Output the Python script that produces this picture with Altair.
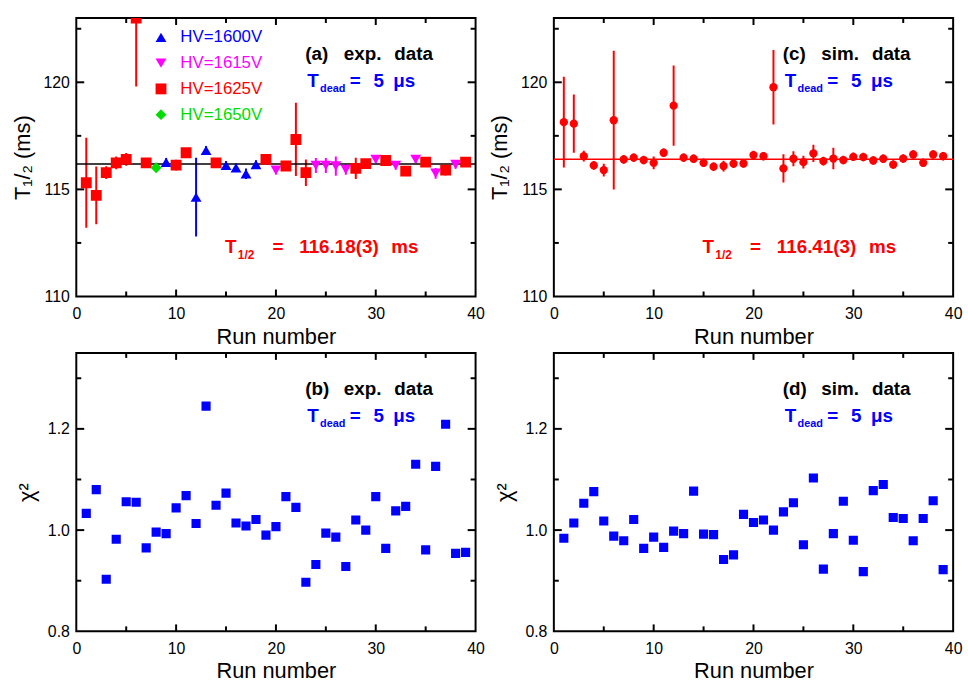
import altair as alt
import pandas as pd

runs = list(range(1, 40))

# ---------------- panel (a): experimental half-lives ----------------
R, B, M, G = "HV=1625V", "HV=1600V", "HV=1615V", "HV=1650V"
a_hv = [R, R, R, R, R, R, R, G, B, R, R, B, B, R, B, B, B, B, R, M,
        R, R, R, M, M, M, M, R, R, M, R, M, R, M, R, M, R, M, R]
a_t = [115.31, 114.72, 115.78, 116.24, 116.40, 123.0, 116.24, 116.01, 116.27, 116.13,
       116.71, 114.64, 116.82, 116.24, 116.12, 116.01, 115.73, 116.16, 116.40, 115.89,
       116.09, 117.33, 115.78, 116.12, 116.12, 116.09, 115.93, 115.98, 116.20, 116.40,
       116.35, 116.12, 115.85, 116.40, 116.27, 115.75, 115.90, 116.16, 116.27]
a_err = [2.1, 1.35, 0.3, 0.3, 0.3, 3.2, 0.2, 0.2, 0.2, 0.25,
         0.2, 1.84, 0.2, 0.2, 0.2, 0.2, 0.25, 0.2, 0.2, 0.2,
         0.2, 1.71, 0.62, 0.35, 0.35, 0.45, 0.25, 0.5, 0.2, 0.2,
         0.2, 0.2, 0.2, 0.2, 0.2, 0.25, 0.25, 0.2, 0.2]
a_fit = 116.18

# ---------------- panel (c): simulated half-lives ----------------
c_t = [118.14, 118.07, 116.55, 116.12, 115.90, 118.23, 116.40, 116.48, 116.37, 116.24,
       116.71, 118.91, 116.48, 116.43, 116.24, 116.06, 116.09, 116.20, 116.21, 116.60,
       116.55, 119.77, 115.98, 116.43, 116.27, 116.68, 116.32, 116.44, 116.37, 116.52,
       116.51, 116.35, 116.43, 116.16, 116.44, 116.63, 116.24, 116.63, 116.55]
c_err = [2.12, 1.36, 0.25, 0.2, 0.3, 3.24, 0.2, 0.2, 0.2, 0.3,
         0.2, 1.87, 0.2, 0.2, 0.2, 0.2, 0.25, 0.2, 0.2, 0.2,
         0.2, 1.74, 0.66, 0.35, 0.3, 0.4, 0.2, 0.5, 0.2, 0.2,
         0.2, 0.2, 0.2, 0.2, 0.2, 0.2, 0.2, 0.2, 0.2]
c_fit = 116.41

# ---------------- panels (b), (d): chi^2 ----------------
b_chi = [1.033, 1.080, 0.903, 0.982, 1.056, 1.055, 0.965, 0.996, 0.993, 1.044,
         1.068, 1.013, 1.245, 1.049, 1.073, 1.014, 1.008, 1.021, 0.990, 1.007,
         1.066, 1.045, 0.897, 0.932, 0.994, 0.986, 0.928, 1.020, 1.000, 1.066,
         0.964, 1.038, 1.047, 1.130, 0.961, 1.126, 1.209, 0.954, 0.956]
d_chi = [0.984, 1.014, 1.053, 1.076, 1.018, 0.988, 0.979, 1.021, 0.964, 0.986,
         0.966, 0.998, 0.993, 1.077, 0.992, 0.991, 0.942, 0.951, 1.031, 1.015,
         1.020, 1.000, 1.036, 1.054, 0.971, 1.103, 0.923, 0.993, 1.057, 0.980,
         0.918, 1.078, 1.090, 1.025, 1.023, 0.979, 1.023, 1.058, 0.922]

hv_domain = [B, M, R, G]
hv_colors = ["#0000ff", "#ff00ff", "#ff0000", "#00dd00"]
hv_shapes = ["triangle-up", "triangle-down", "square", "diamond"]
hv_sizes = [120, 120, 85, 130]

x_labels = [0, 10, 20, 30, 40]
x_major = [10, 20, 30]
x_minor = [5, 15, 25, 35]
t_labels = [110, 115, 120]
t_major = [115, 120]
t_minor = [112.5, 117.5, 122.5]
chi_labels = [0.8, 1.0, 1.2]
chi_major = [1.0, 1.2]
chi_minor = [0.9, 1.1, 1.3]

W, H = 403, 281
T_DOM = [110, 123]
CHI_DOM = [0.8, 1.35]
FONT = "Liberation Sans"

xs = alt.Scale(domain=[0, 40], nice=False, zero=False)


def x_enc(field="run"):
    return alt.X(f"{field}:Q", scale=xs,
                 axis=alt.Axis(values=x_labels, title="Run  number", labelPadding=9,
                               titlePadding=5, format="d"))


def y_axis(vals, title, fmt):
    return alt.Axis(values=vals, title=title, labelPadding=7, titlePadding=9, format=fmt)


def ticks(ydom, ymaj, ymin):
    layers = []
    for vals, L in [(x_major, 7), (x_minor, 5)]:
        d = pd.DataFrame({"v": vals})
        base = alt.Chart(d).mark_rule(color="black", strokeWidth=2)
        layers.append(base.encode(x=alt.X("v:Q", scale=xs), y=alt.value(H), y2=alt.value(H - L)))
        layers.append(base.encode(x=alt.X("v:Q", scale=xs), y=alt.value(0), y2=alt.value(L)))
    ys = alt.Scale(domain=ydom, nice=False, zero=False)
    for vals, L in [(ymaj, 8), (ymin, 5)]:
        d = pd.DataFrame({"v": vals})
        base = alt.Chart(d).mark_rule(color="black", strokeWidth=2)
        layers.append(base.encode(y=alt.Y("v:Q", scale=ys), x=alt.value(0), x2=alt.value(L)))
        layers.append(base.encode(y=alt.Y("v:Q", scale=ys), x=alt.value(W), x2=alt.value(W - L)))
    return layers


def annotations(rows, ydom):
    d = pd.DataFrame(rows, columns=["x", "y", "text", "color", "size"])
    return alt.Chart(d).mark_text(align="left", baseline="alphabetic", font=FONT,
                                  fontWeight="bold").encode(
        x=alt.X("x:Q", scale=xs),
        y=alt.Y("y:Q", scale=alt.Scale(domain=ydom, nice=False, zero=False)),
        text="text:N",
        color=alt.Color("color:N", scale=None),
        size=alt.Size("size:Q", scale=None),
    )


def label_rows(tag, kind, top, ppu):
    y1 = top - 42 / ppu
    y2 = top - 70 / ppu
    y3 = top - 75 / ppu
    return [
        [231 / 10.075, y1, tag, "black", 19],
        [270 / 10.075, y1, kind, "black", 19],
        [321 / 10.075, y1, "data", "black", 19],
        [233 / 10.075, y2, "T", "#0000ff", 19],
        [246 / 10.075, y3, "dead", "#0000ff", 11],
        [276 / 10.075, y2, "=", "#0000ff", 19],
        [300 / 10.075, y2, "5", "#0000ff", 19],
        [320 / 10.075, y2, "μs", "#0000ff", 19],
    ]


def half_rows(val):
    top = T_DOM[1]
    ppu = H / (T_DOM[1] - T_DOM[0])
    ya = top - 237 / ppu
    yb = top - 243 / ppu
    return [
        [150 / 10.075, ya, "T", "#ff0000", 19],
        [163 / 10.075, yb, "1/2", "#ff0000", 12],
        [198 / 10.075, ya, "=", "#ff0000", 19],
        [225 / 10.075, ya, val, "#ff0000", 19],
        [318 / 10.075, ya, "ms", "#ff0000", 19],
    ]


T_TITLE = "T₁/₂  (ms)"
ppu_t = H / (T_DOM[1] - T_DOM[0])
ppu_c = H / (CHI_DOM[1] - CHI_DOM[0])

# ---------------- build panel (a) ----------------
col_map = dict(zip(hv_domain, hv_colors))
dfa = pd.DataFrame({"run": runs, "t": a_t, "err": a_err, "hv": a_hv})
dfa["lo"] = dfa["t"] - dfa["err"]
dfa["hi"] = dfa["t"] + dfa["err"]
dfa["col"] = dfa["hv"].map(col_map)
ys_t = alt.Scale(domain=T_DOM, nice=False, zero=False)

label_expr = ("datum.label == 'HV=1600V' ? '#0000ff' : datum.label == 'HV=1615V' ? '#ff00ff' : "
              "datum.label == 'HV=1625V' ? '#ff0000' : '#00dd00'")
leg = alt.Legend(title=None, orient="none", legendX=77, legendY=11, labelFont=FONT,
                 labelFontSize=17, labelColor={"expr": label_expr}, symbolStrokeWidth=0,
                 symbolOpacity=1, symbolSize=150, rowPadding=8, labelOffset=11, padding=0)

a_err_l = alt.Chart(dfa).mark_rule(strokeWidth=2, clip=True).encode(
    x=x_enc(), y=alt.Y("lo:Q", scale=ys_t, axis=y_axis(t_labels, T_TITLE, "d")), y2="hi:Q",
    color=alt.Color("col:N", scale=None))
a_fit_l = alt.Chart(pd.DataFrame({"v": [a_fit]})).mark_rule(color="black", strokeWidth=1.5).encode(
    y=alt.Y("v:Q", scale=ys_t))
a_pts = alt.Chart(dfa).mark_point(filled=True, opacity=1, strokeWidth=0, clip=True).encode(
    x=alt.X("run:Q", scale=xs),
    y=alt.Y("t:Q", scale=ys_t),
    color=alt.Color("hv:N", scale=alt.Scale(domain=hv_domain, range=hv_colors), legend=leg),
    shape=alt.Shape("hv:N", scale=alt.Scale(domain=hv_domain, range=hv_shapes), legend=leg),
    size=alt.Size("hv:N", scale=alt.Scale(domain=hv_domain, range=hv_sizes), legend=None),
)
panel_a = alt.layer(a_err_l, a_fit_l, a_pts,
                    annotations(label_rows("(a)", "exp.", T_DOM[1], ppu_t) + half_rows("116.18(3)"), T_DOM),
                    *ticks(T_DOM, t_major, t_minor)).properties(width=W, height=H)

# ---------------- build panel (c) ----------------
dfc = pd.DataFrame({"run": runs, "t": c_t, "err": c_err})
dfc["lo"] = dfc["t"] - dfc["err"]
dfc["hi"] = dfc["t"] + dfc["err"]
c_err_l = alt.Chart(dfc).mark_rule(strokeWidth=2, color="#ff0000", clip=True).encode(
    x=x_enc(), y=alt.Y("lo:Q", scale=ys_t, axis=y_axis(t_labels, T_TITLE, "d")), y2="hi:Q")
c_fit_l = alt.Chart(pd.DataFrame({"v": [c_fit]})).mark_rule(color="#ff0000", strokeWidth=1.5).encode(
    y=alt.Y("v:Q", scale=ys_t))
c_pts = alt.Chart(dfc).mark_point(filled=True, opacity=1, strokeWidth=0, shape="circle",
                                  size=70, color="#ff0000", clip=True).encode(
    x=alt.X("run:Q", scale=xs), y=alt.Y("t:Q", scale=ys_t))
panel_c = alt.layer(c_err_l, c_fit_l, c_pts,
                    annotations(label_rows("(c)", "sim.", T_DOM[1], ppu_t) + half_rows("116.41(3)"), T_DOM),
                    *ticks(T_DOM, t_major, t_minor)).properties(width=W, height=H)

# ---------------- chi^2 panels ----------------
ys_c = alt.Scale(domain=CHI_DOM, nice=False, zero=False)


def chi_panel(vals, tag, kind):
    d = pd.DataFrame({"run": runs, "chi": vals})
    pts = alt.Chart(d).mark_point(filled=True, opacity=1, strokeWidth=0, shape="square",
                                  size=85, color="#0000ff", clip=True).encode(
        x=x_enc(), y=alt.Y("chi:Q", scale=ys_c, axis=y_axis(chi_labels, "χ²", ".1f")))
    return alt.layer(pts, annotations(label_rows(tag, kind, CHI_DOM[1], ppu_c), CHI_DOM),
                     *ticks(CHI_DOM, chi_major, chi_minor)).properties(width=W, height=H)


panel_b = chi_panel(b_chi, "(b)", "exp.")
panel_d = chi_panel(d_chi, "(d)", "sim.")

chart = alt.concat(panel_a, panel_c, panel_b, panel_d, columns=2,
                   spacing={"row": 57, "column": 79}, bounds="flush").properties(
    padding={"left": 10, "top": 13, "right": 5, "bottom": 5},
    background="white",
).configure_view(stroke="black", strokeWidth=2).configure_axis(
    domain=False, ticks=False, grid=False, labelFont=FONT, labelFontSize=16, labelColor="black",
    titleFont=FONT, titleFontSize=22, titleFontWeight="normal", titleColor="black",
    labelFlush=False, labelOverlap=False,
).resolve_scale(color="independent", shape="independent", size="independent")

chart.save("out.html", embed_options={"renderer": "svg", "actions": False})
